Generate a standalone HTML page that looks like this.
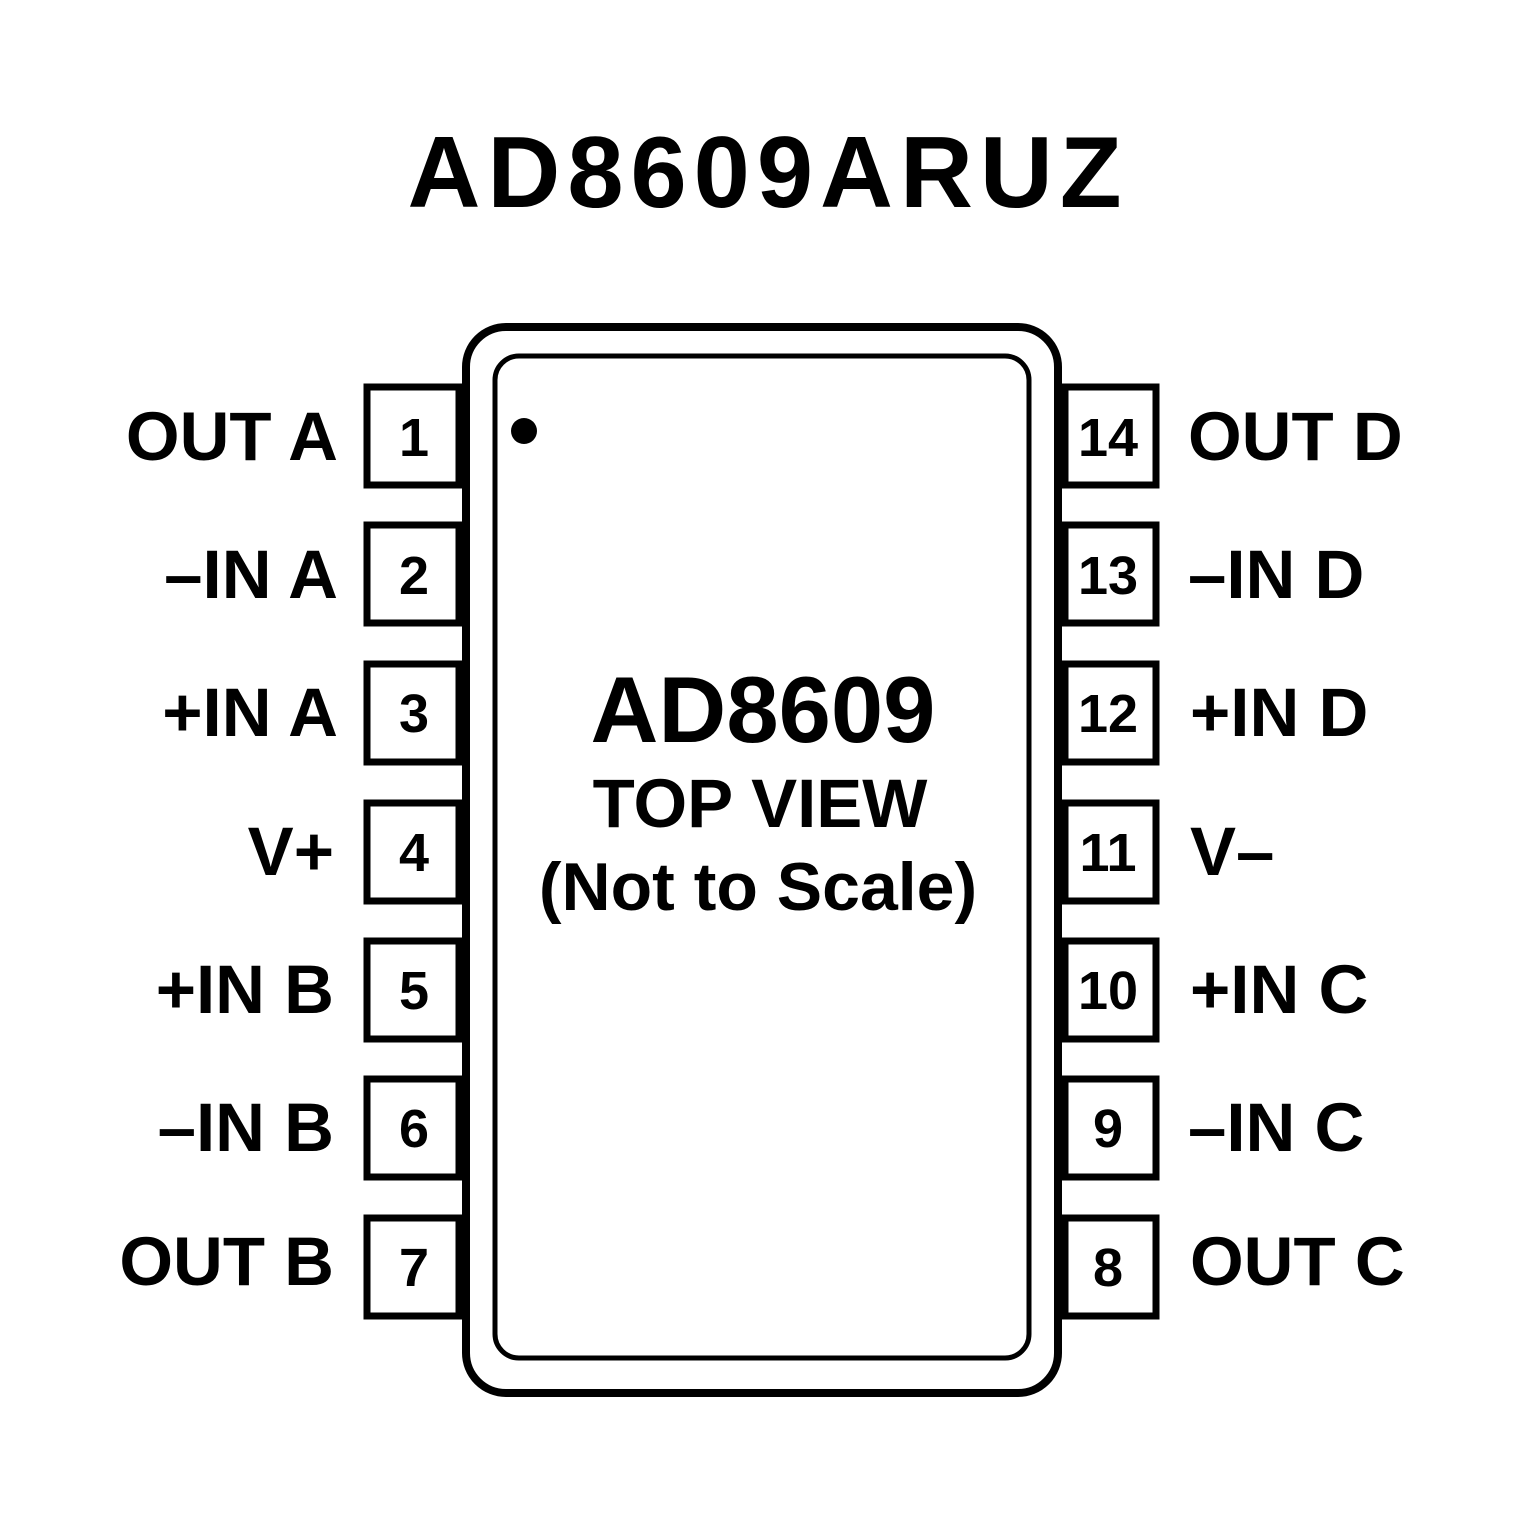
<!DOCTYPE html>
<html><head><style>html,body{margin:0;padding:0;background:#fff}</style></head><body>
<svg width="1535" height="1535" viewBox="0 0 1535 1535" xmlns="http://www.w3.org/2000/svg" font-family="Liberation Sans, Arial, sans-serif" font-weight="bold">
<rect width="1535" height="1535" fill="#fff"/>
<text x="768" y="207" font-size="101" letter-spacing="7" text-anchor="middle" fill="#000">AD8609ARUZ</text>
<rect x="466" y="327" width="592" height="1066" rx="40" fill="none" stroke="#000" stroke-width="8"/>
<rect x="495" y="356" width="534" height="1002" rx="24" fill="none" stroke="#000" stroke-width="5"/>
<circle cx="524" cy="431" r="13" fill="#000"/>
<g fill="none" stroke="#000" stroke-width="7">
<rect x="367" y="387" width="92" height="98"/>
<rect x="367" y="525" width="92" height="98"/>
<rect x="367" y="664" width="92" height="98"/>
<rect x="367" y="803" width="92" height="98"/>
<rect x="367" y="941" width="92" height="98"/>
<rect x="367" y="1079" width="92" height="98"/>
<rect x="367" y="1218" width="92" height="98"/>
<rect x="1065" y="387" width="91" height="98"/>
<rect x="1065" y="525" width="91" height="98"/>
<rect x="1065" y="664" width="91" height="98"/>
<rect x="1065" y="803" width="91" height="98"/>
<rect x="1065" y="941" width="91" height="98"/>
<rect x="1065" y="1079" width="91" height="98"/>
<rect x="1065" y="1218" width="91" height="98"/>
</g>
<g font-size="54" text-anchor="middle" fill="#000">
<text x="414" y="456">1</text><text x="414" y="594">2</text><text x="414" y="732">3</text><text x="414" y="871">4</text><text x="414" y="1009">5</text><text x="414" y="1147">6</text><text x="414" y="1286">7</text>
<text x="1108" y="456">14</text><text x="1108" y="594">13</text><text x="1108" y="732">12</text><text x="1108" y="871">11</text><text x="1108" y="1009">10</text><text x="1108" y="1147">9</text><text x="1108" y="1286">8</text>
</g>
<g font-size="69" text-anchor="end" fill="#000">
<text x="338" y="460">OUT A</text><text x="338" y="598">–IN A</text><text x="338" y="736">+IN A</text><text x="334" y="875">V+</text><text x="334" y="1013">+IN B</text><text x="334" y="1151">–IN B</text><text x="334" y="1285">OUT B</text>
</g>
<g font-size="69" fill="#000">
<text x="1188" y="460">OUT D</text><text x="1188" y="598">–IN D</text><text x="1190" y="736">+IN D</text><text x="1190" y="875">V–</text><text x="1190" y="1013">+IN C</text><text x="1188" y="1151">–IN C</text><text x="1190" y="1285">OUT C</text>
</g>
<g text-anchor="middle" fill="#000">
<text x="763" y="742" font-size="94">AD8609</text>
<text x="760" y="827" font-size="69">TOP VIEW</text>
<text x="758" y="910" font-size="68">(Not to Scale)</text>
</g>
</svg>
</body></html>
